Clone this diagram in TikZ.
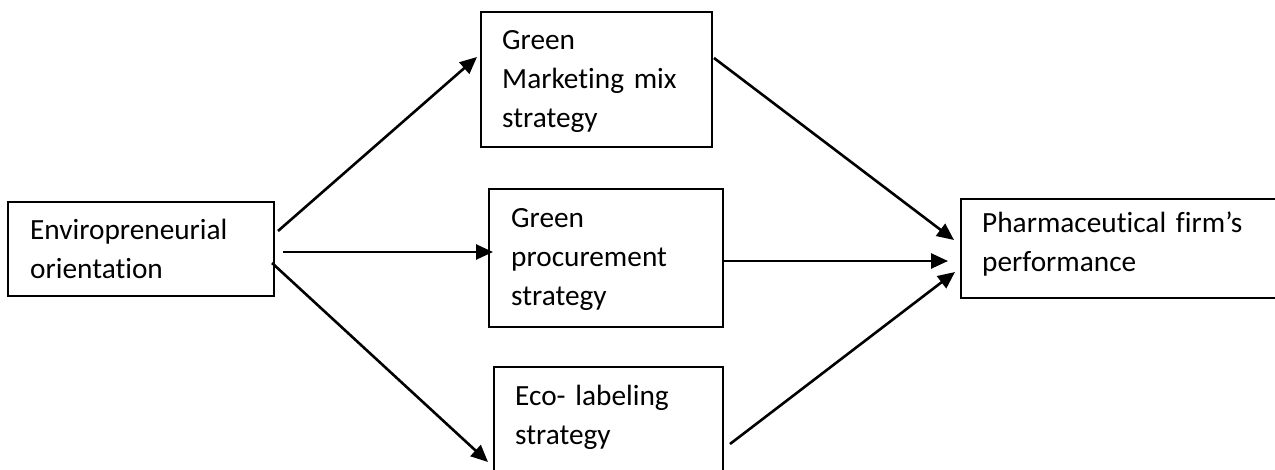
\documentclass[tikz,border=0pt]{standalone}
\usepackage{fontspec}
\setmainfont{Carlito}[Ligatures=NoCommon,WordSpace={0.9,0,0}]
\usetikzlibrary{arrows.meta,calc}
\begin{document}
\begin{tikzpicture}[x=1pt,y=-1pt,
  box/.style={draw=black,line width=1.8pt,rectangle,inner sep=0pt,outer sep=0pt},
  label/.style={anchor=base west,inner sep=0pt,align=left,text width=320pt,
    font=\fontsize{29.3}{39}\selectfont},
  link/.style={line width=2.6pt,-{Triangle[length=17pt,width=15pt]}}]
\useasboundingbox (0,0) rectangle (1275,470);
\clip (0,0) rectangle (1275,470);
% framed boxes
\node[box,minimum width=266pt,minimum height=94pt] (env) at (141,249) {};
\node[box,minimum width=231pt,minimum height=135pt] (gm) at (596.5,79.5) {};
\node[box,minimum width=234pt,minimum height=138pt] (gp) at (606,258) {};
\node[box,minimum width=229pt,minimum height=140pt] (eco) at (608.5,437) {};
\node[box,minimum width=320pt,minimum height=99pt] (ph) at (1121,248.5) {};
% box texts
\node[label] (envt) at (30,240) {Enviropreneurial\\orientation};
\node[label] (gmt) at (502,50) {Green\\Marketing mix\\strategy};
\node[label] (gpt) at (511,228) {Green\\procurement\\strategy};
\node[label] (ecot) at (515,406) {Eco- labeling\\strategy};
\node[label] (pht) at (982,233) {Pharmaceutical firm’s\\performance};
% arrow end points
\coordinate (a1s) at ($(env.north east)+(4,29)$);
\coordinate (a1e) at ($(gm.north west)+(-4,45)$);
\coordinate (a2s) at ($(env.north east)+(9,50)$);
\coordinate (a2e) at ($(gp.north west)+(4,63)$);
\coordinate (a3s) at ($(env.north east)+(-2,61)$);
\coordinate (a3e) at ($(eco.north west)+(-6,95)$);
\coordinate (b1s) at ($(gm.north east)+(2,46)$);
\coordinate (b1e) at ($(ph.north west)+(-7,41)$);
\coordinate (b2s) at ($(gp.north east)+(0,72)$);
\coordinate (b2e) at ($(ph.north west)+(-13,62)$);
\coordinate (b3s) at ($(eco.north east)+(7,77)$);
\coordinate (b3e) at ($(ph.north west)+(-6,73)$);
% connectors
\draw[link] (a1s) -- (a1e);
\draw[link] (a2s) -- (a2e);
\draw[link] (a3s) -- (a3e);
\draw[link] (b1s) -- (b1e);
\draw[link] (b2s) -- (b2e);
\draw[link] (b3s) -- (b3e);
\end{tikzpicture}
\end{document}
